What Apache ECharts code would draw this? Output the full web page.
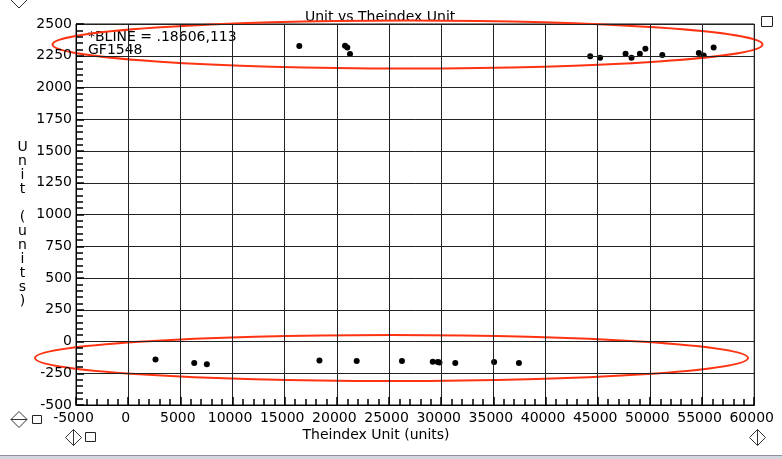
<!DOCTYPE html>
<html>
<head>
<meta charset="utf-8">
<title>Unit vs Theindex Unit</title>
<script src="https://cdn.jsdelivr.net/npm/echarts@6/dist/echarts.min.js"></script>
<style>
  html, body { margin: 0; padding: 0; background: #fff; }
  #chart { width: 782px; height: 459px; }
</style>
</head>
<body>
<div id="chart"></div>
<script>
// upper cluster
var topX = [16400, 20780, 21000, 21260, 44280, 45230, 47670, 48240, 49040, 49570, 51190, 54690, 55160, 56110];
var topY = [2326, 2328, 2315, 2263, 2247, 2234, 2265, 2234, 2265, 2305, 2255, 2271, 2252, 2315];
// lower cluster
var lowX = [2620, 6330, 7540, 18330, 21900, 26240, 29190, 29670, 29830, 31350, 35070, 37450];
var lowY = [-141, -170, -180, -149, -154, -154, -160, -162, -165, -170, -162, -170];

var xTicks = { min: -5000, max: 60000, step: 5000 };
var yTicks = { min: -500, max: 2500, step: 250 };

var titleText = 'Unit vs Theindex Unit';
var xName = 'Theindex Unit (units)';
var yName = 'Unit (units)';
var noteLines = ['*BLINE = .18606,113', 'GF1548'];

var points = [];
topX.forEach(function (x, i) { points.push([x, topY[i]]); });
lowX.forEach(function (x, i) { points.push([x, lowY[i]]); });

var font = 'DejaVu Sans';
var font14 = '14px "' + font + '"';
var chart = echarts.init(document.getElementById('chart'));

// plain numbers, no thousands separators
function plain(v) { return String(v); }

// small helpers for the window widgets around the plot
function diamond(cx, cy, r, midline) {
  var els = [{
    type: 'polygon', z: 5,
    shape: { points: [[cx - r, cy], [cx, cy - r], [cx + r, cy], [cx, cy + r]] },
    style: { fill: 'none', stroke: '#333', lineWidth: 1 }
  }];
  if (midline === 'h') {
    els.push({ type: 'line', z: 5, shape: { x1: cx - r, y1: cy, x2: cx + r, y2: cy }, style: { stroke: '#333', lineWidth: 1 } });
  } else if (midline === 'v') {
    els.push({ type: 'line', z: 5, shape: { x1: cx, y1: cy - r, x2: cx, y2: cy + r }, style: { stroke: '#333', lineWidth: 1 } });
  }
  return els;
}
function box(x, y, w, h) {
  return { type: 'rect', z: 5, shape: { x: x, y: y, width: w, height: h }, style: { fill: 'none', stroke: '#222', lineWidth: 1 } };
}

var graphics = [
  // axis titles
  { type: 'text', z: 4, x: 22.5, y: 224.5, style: { text: yName.split('').join('\n'), font: font14, lineHeight: 14, fill: '#000', align: 'center', verticalAlign: 'middle' } },
  { type: 'text', z: 4, x: 376, y: 435.5, style: { text: xName, font: font14, fill: '#000', align: 'center', verticalAlign: 'middle' } },
  // white patch behind the note text
  { type: 'rect', z: 3, shape: { x: 77, y: 30, width: 104, height: 26 }, style: { fill: '#fff' } },
  { type: 'text', z: 4, x: 88, y: 37, style: { text: noteLines[0], font: font14, fill: '#000', verticalAlign: 'middle' } },
  { type: 'text', z: 4, x: 88, y: 50.5, style: { text: noteLines[1], font: font14, fill: '#000', verticalAlign: 'middle' } },
  // red annotation rings
  { type: 'ellipse', z: 10, shape: { cx: 407.5, cy: 44.5, rx: 355, ry: 24 }, style: { fill: 'none', stroke: '#ff3311', lineWidth: 2 } },
  { type: 'ellipse', z: 10, shape: { cx: 391.5, cy: 358, rx: 356.5, ry: 23 }, style: { fill: 'none', stroke: '#ff3311', lineWidth: 2 } },
  box(761.5, 16.5, 11, 10),
  box(32.5, 415.5, 9, 8),
  box(85.5, 432.5, 10, 9),
  // bottom strip
  { type: 'rect', z: 5, shape: { x: 0, y: 455, width: 782, height: 4 }, style: { fill: '#d3d6de' } },
  { type: 'line', z: 5, shape: { x1: 0, y1: 455.5, x2: 782, y2: 455.5 }, style: { stroke: '#8e929c', lineWidth: 1 } }
];
graphics = graphics
  .concat(diamond(19, -1, 9, null))
  .concat(diamond(19, 419.5, 8, 'h'))
  .concat(diamond(73.5, 437.5, 8, 'v'))
  .concat(diamond(757.5, 437.5, 8, 'v'));

chart.setOption({
  animation: false,
  backgroundColor: '#fff',
  title: {
    text: titleText,
    left: 300,
    top: 5,
    textStyle: { fontFamily: font, fontSize: 14, fontWeight: 'normal', color: '#000' }
  },
  grid: {
    left: 76, right: 24.5, top: 24, bottom: 54,
    show: true, borderColor: '#111', borderWidth: 1
  },
  xAxis: {
    type: 'value',
    min: xTicks.min, max: xTicks.max, interval: xTicks.step,
    axisLine: { show: true, onZero: false, lineStyle: { color: '#000', width: 1 } },
    axisTick: { show: true, inside: true, length: 8, lineStyle: { color: '#000', width: 1.5 } },
    minorTick: { show: true, splitNumber: 5, length: 6, lineStyle: { color: '#000', width: 1.5 } },
    splitLine: { show: true, lineStyle: { color: '#222', width: 1 } },
    axisLabel: { formatter: plain, fontFamily: font, fontSize: 14, color: '#000', margin: 6, lineHeight: 14, padding: [0, 5, 0, 0], showMinLabel: true, showMaxLabel: true, interval: 0 },
    z: 20
  },
  yAxis: {
    type: 'value',
    min: yTicks.min, max: yTicks.max, interval: yTicks.step,
    axisLine: { show: true, onZero: false, lineStyle: { color: '#000', width: 1 } },
    axisTick: { show: true, inside: true, length: 8, lineStyle: { color: '#000', width: 1.5 } },
    minorTick: { show: true, splitNumber: 5, length: 7, lineStyle: { color: '#000', width: 1.5 } },
    splitLine: { show: true, lineStyle: { color: '#222', width: 1 } },
    axisLabel: { formatter: plain, fontFamily: font, fontSize: 14, color: '#000', margin: 4, padding: [0, 0, 12, 0], showMinLabel: true, showMaxLabel: true },
    z: 20
  },
  series: [{
    type: 'scatter',
    data: points,
    symbol: 'circle',
    symbolSize: 6,
    itemStyle: { color: '#000', opacity: 1 }
  }],
  graphic: graphics
});
</script>
</body>
</html>
